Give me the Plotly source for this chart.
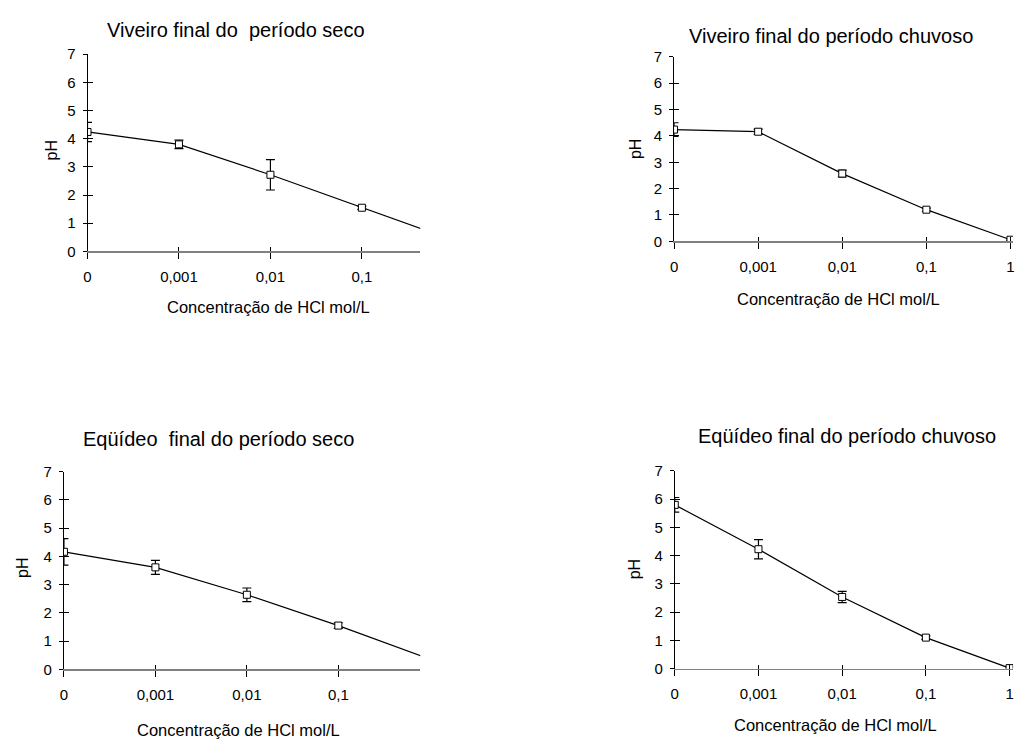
import plotly.graph_objects as go

W, H = 1025, 749

# ---- data ----
concentracao = ["0", "0,001", "0,01", "0,1", "1"]
viveiro_seco = [4.24, 3.80, 2.72, 1.55, 0.40]
viveiro_seco_err = [0.34, 0.15, 0.54, 0.06, 0.05]
viveiro_chuvoso = [4.24, 4.16, 2.57, 1.20, 0.06]
viveiro_chuvoso_err = [0.26, 0.10, 0.13, 0.06, 0.04]
equideo_seco = [4.16, 3.61, 2.64, 1.55, 0.36]
equideo_seco_err = [0.47, 0.25, 0.24, 0.10, 0.05]
equideo_chuvoso = [5.80, 4.23, 2.54, 1.10, 0.02]
equideo_chuvoso_err = [0.26, 0.34, 0.20, 0.06, 0.05]
titles = ["Viveiro final do  período seco", "Viveiro final do período chuvoso",
          "Eqüídeo  final do período seco", "Eqüídeo final do período chuvoso"]
x_title = "Concentração de HCl mol/L"
y_title = "pH"
y_ticks = [0, 1, 2, 3, 4, 5, 6, 7]

FONT = "Liberation Sans, Arial, sans-serif"

def px_x(p):
    return p / W

def px_y(p):
    return 1 - p / H

panels = [
    dict(vals=viveiro_seco, err=viveiro_seco_err,
         x0=84, x1=418.7, step=92.0, ytop=46.3, ybot=248,
         title_xy=(233, 21), xt_xy=(266, 305), yt_xy=(48, 145)),
    dict(vals=viveiro_chuvoso, err=viveiro_chuvoso_err,
         x0=674, x1=1015, step=84.6, ytop=49, ybot=237.7,
         title_xy=(832, 28), xt_xy=(839, 297), yt_xy=(635, 143)),
    dict(vals=equideo_seco, err=equideo_seco_err,
         x0=60.3, x1=418.7, step=92.0, ytop=473.3, ybot=675.7,
         title_xy=(216, 440), xt_xy=(236, 738), yt_xy=(18, 572)),
    dict(vals=equideo_chuvoso, err=equideo_chuvoso_err,
         x0=674.7, x1=1015, step=84.2, ytop=472.7, ybot=675,
         title_xy=(848, 437), xt_xy=(836, 733), yt_xy=(635, 573)),
]

fig = go.Figure()
layout = {}
annotations = []
xpos = list(range(len(concentracao)))

for i, p in enumerate(panels):
    k = i + 1
    ko = i + 5
    xdom = [px_x(p["x0"]), px_x(p["x1"])]
    ydom = [px_y(p["ybot"]), px_y(p["ytop"])]
    xr = [0, (p["x1"] - p["x0"]) / p["step"]]
    yr = [0, 7]

    fig.add_trace(go.Scatter(
        x=xpos, y=p["vals"], mode="lines+markers",
        xaxis=f"x{k}", yaxis=f"y{k}", showlegend=False,
        line=dict(color="black", width=1.2),
        marker=dict(symbol="square", size=7, color="white",
                    line=dict(color="black", width=1)),
        error_y=dict(type="data", array=p["err"], visible=True,
                     color="black", thickness=1.2, width=4.5),
    ))
    fig.add_trace(go.Scatter(x=[None], y=[None], xaxis=f"x{ko}", yaxis=f"y{ko}",
                             showlegend=False, hoverinfo="skip"))

    layout[f"xaxis{k}"] = dict(
        domain=xdom, range=xr, anchor=f"y{k}",
        tickmode="array", tickvals=xpos, ticktext=concentracao,
        showgrid=False, zeroline=False, showline=True,
        linecolor="#808080", linewidth=1.5,
        ticks="outside", ticklen=6, tickwidth=1, tickcolor="black",
        ticklabelstandoff=5,
        tickfont=dict(family=FONT, size=15, color="black"),
    )
    layout[f"yaxis{k}"] = dict(
        domain=ydom, range=yr, anchor=f"x{k}",
        tickmode="array", tickvals=y_ticks,
        showgrid=False, zeroline=False, showline=True,
        linecolor="black", linewidth=1,
        ticks="outside", ticklen=4, tickwidth=1, tickcolor="black",
        ticklabelstandoff=4,
        tickfont=dict(family=FONT, size=15, color="black"),
    )
    layout[f"xaxis{ko}"] = dict(
        domain=xdom, range=xr, anchor=f"y{ko}", overlaying=f"x{k}",
        tickmode="array", tickvals=xpos, showticklabels=False,
        showgrid=False, zeroline=False, showline=False,
        ticks="inside", ticklen=4, tickwidth=1, tickcolor="black",
    )
    layout[f"yaxis{ko}"] = dict(
        domain=ydom, range=yr, anchor=f"x{ko}", overlaying=f"y{k}",
        tickmode="array", tickvals=y_ticks, showticklabels=False,
        showgrid=False, zeroline=False, showline=False,
        ticks="inside", ticklen=5, tickwidth=1, tickcolor="black",
    )

    tx, ty = p["title_xy"]
    annotations.append(dict(text=titles[i], x=px_x(tx), y=px_y(ty),
                            xref="paper", yref="paper", showarrow=False,
                            xanchor="center", yanchor="middle",
                            font=dict(family=FONT, size=20, color="black")))
    ax, ay = p["xt_xy"]
    annotations.append(dict(text=x_title, x=px_x(ax), y=px_y(ay),
                            xref="paper", yref="paper", showarrow=False,
                            xanchor="center", yanchor="middle",
                            font=dict(family=FONT, size=16.5, color="black")))
    yx, yy = p["yt_xy"]
    annotations.append(dict(text=y_title, x=px_x(yx), y=px_y(yy),
                            xref="paper", yref="paper", showarrow=False,
                            xanchor="center", yanchor="middle", textangle=-90,
                            font=dict(family=FONT, size=16, color="black")))

fig.update_layout(
    width=W, height=H,
    margin=dict(l=0, r=0, t=0, b=0),
    paper_bgcolor="white", plot_bgcolor="white",
    annotations=annotations,
    **layout,
)

fig.write_html(
    "out.html",
    config={"displayModeBar": False, "staticPlot": True},
    post_script="document.body.style.margin='0';document.body.style.overflow='hidden';",
)
